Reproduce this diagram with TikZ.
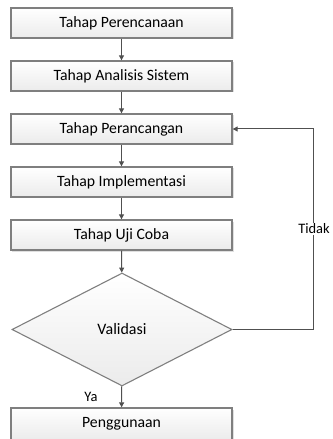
\documentclass[tikz,border=0pt]{standalone}
\usepackage{fontspec}
\setmainfont{Carlito}
\usetikzlibrary{shapes.geometric,arrows.meta,shadows}
\definecolor{edgegray}{HTML}{7F7F7F}
\definecolor{linegray}{HTML}{505050}
\definecolor{topfill}{HTML}{FFFFFF}
\definecolor{botfill}{HTML}{EBEBEB}
\tikzset{
  stepbox/.style={draw=edgegray, line width=1.3bp, top color=topfill, bottom color=botfill,
    minimum width=221bp, minimum height=30bp, inner sep=0, font=\fontsize{15.8}{18}\selectfont,
    drop shadow={shadow xshift=1.5bp, shadow yshift=-1.5bp, fill=black!25, opacity=0.5}},
  decision/.style={diamond, draw=edgegray, line width=1.1bp, top color=topfill, bottom color=botfill,
    minimum width=220bp, minimum height=113bp, inner sep=0, font=\fontsize{16}{18}\selectfont},
  conn/.style={draw=linegray, line width=1bp, -{Triangle[length=5bp,width=5bp]}},
  lbl/.style={font=\fontsize{14.5}{16}\selectfont, inner sep=1bp},
}
\begin{document}
\begin{tikzpicture}[x=1bp,y=-1bp]
\useasboundingbox (0,0) rectangle (332,439);
\clip (0,0) rectangle (332,439);
\node[stepbox] (b1) at (121.5,23) {Tahap Perencanaan};
\node[stepbox] (b2) at (121.5,76) {Tahap Analisis Sistem};
\node[stepbox] (b3) at (121.5,129) {Tahap Perancangan};
\node[stepbox] (b4) at (121.5,182) {Tahap Implementasi};
\node[stepbox] (b5) at (121.5,235) {Tahap Uji Coba};
\node[decision] (v) at (122,329.5) {Validasi};
\node[stepbox, minimum height=32bp] (b6) at (121.5,424) {Penggunaan};
\coordinate (c1) at (313,329.5);
\coordinate (c2) at (313,129);
\draw[conn] (b1) -- (b2);
\draw[conn] (b2) -- (b3);
\draw[conn] (b3) -- (b4);
\draw[conn] (b4) -- (b5);
\draw[conn] (b5) -- (v);
\draw[conn] (v) -- (b6);
\draw[conn] (v.east) -- (c1) -- (c2) -- (b3.east);
\node[lbl, fill=white] (tidak) at (314,229) {Tidak};
\node[lbl] (ya) at (91,397) {Ya};
\end{tikzpicture}
\end{document}
